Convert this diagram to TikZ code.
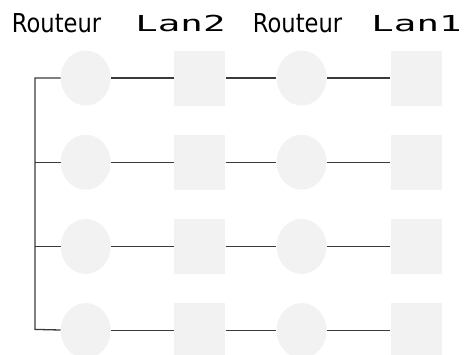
\documentclass[tikz,border=0pt]{standalone}
\usepackage{fontspec}
\usepackage{xcolor}
\usetikzlibrary{shapes.geometric,positioning}
\newfontfamily\routfont[FakeStretch=0.87]{DejaVu Sans}
\newfontfamily\lanfont[FakeStretch=1.7]{DejaVu Sans Mono}
\definecolor{boxgray}{HTML}{F2F2F2}
\definecolor{linegray}{HTML}{3A3A3A}

\begin{document}
\begin{tikzpicture}[
			x=1pt, y=-1pt,
			node distance=28.8pt,
			router/.style={ellipse, fill=boxgray, minimum width=50pt, minimum height=55pt, inner sep=0pt},
			lan/.style={rectangle, fill=boxgray, minimum width=51pt, minimum height=55pt, inner sep=0pt},
			heading/.style={anchor=base, inner sep=0pt},
			link/.style={draw, linegray, line width=1.3pt}
			]
			\useasboundingbox (0,0) rectangle (468,354);
			
			% 标题
			\node (h1) [heading, font=\routfont\fontsize{26}{31}\selectfont] at (56.5,32) {Routeur};
			\node (h2) [heading, font=\lanfont\fontsize{22}{26}\selectfont] at (180.5,31.5) {Lan2};
			\node (h3) [heading, font=\routfont\fontsize{26}{31}\selectfont] at (297.5,32) {Routeur};
			\node (h4) [heading, font=\lanfont\fontsize{22}{26}\selectfont] at (416.5,31.5) {Lan1};
			
			% 节点定义
			\node (RA1) [router] at (85.7,78) {};
			\node (LB1) [lan, right=63.3pt of RA1] {};
			\node (RB1) [router, right=50.8pt of LB1] {};
			\node (LA1) [lan, right=63.5pt of RB1] {};
			
			\node (RA2) [router, below=of RA1] {};
			\node (LB2) [lan, below=of LB1] {};
			\node (RB2) [router, below=of RB1] {};
			\node (LA2) [lan, below=of LA1] {};
			
			\node (RA3) [router, below=of RA2] {};
			\node (LB3) [lan, below=of LB2] {};
			\node (RB3) [router, below=of RB2] {};
			\node (LA3) [lan, below=of LA2] {};
			
			\node (RA4) [router, below=of RA3] {};
			\node (LB4) [lan, below=of LB3] {};
			\node (RB4) [router, below=of RB3] {};
			\node (LA4) [lan, below=of LA3] {};
			
			% 连线
			\draw [link] (RA1) -- (LB1);
			\draw [link] (LB1) -- (RB1);
			\draw [link] (RB1) -- (LA1);
			\draw [link] (RA2) -- (LB2);
			\draw [link] (LB2) -- (RB2);
			\draw [link] (RB2) -- (LA2);
			\draw [link] (RA3) -- (LB3);
			\draw [link] (LB3) -- (RB3);
			\draw [link] (RB3) -- (LA3);
			\draw [link] (RA4) -- (LB4);
			\draw [link] (LB4) -- (RB4);
			\draw [link] (RB4) -- (LA4);
			
			% 左侧总线
			\coordinate (top) at (35,78);
			\coordinate (bot) at (35,329.4);
			\draw [link] (RA1) -- (top) -- (bot) -- (RA4);
			\draw [link] (RA2) -- (RA2 -| top);
			\draw [link] (RA3) -- (RA3 -| top);
			
		\end{tikzpicture}
\end{document}
